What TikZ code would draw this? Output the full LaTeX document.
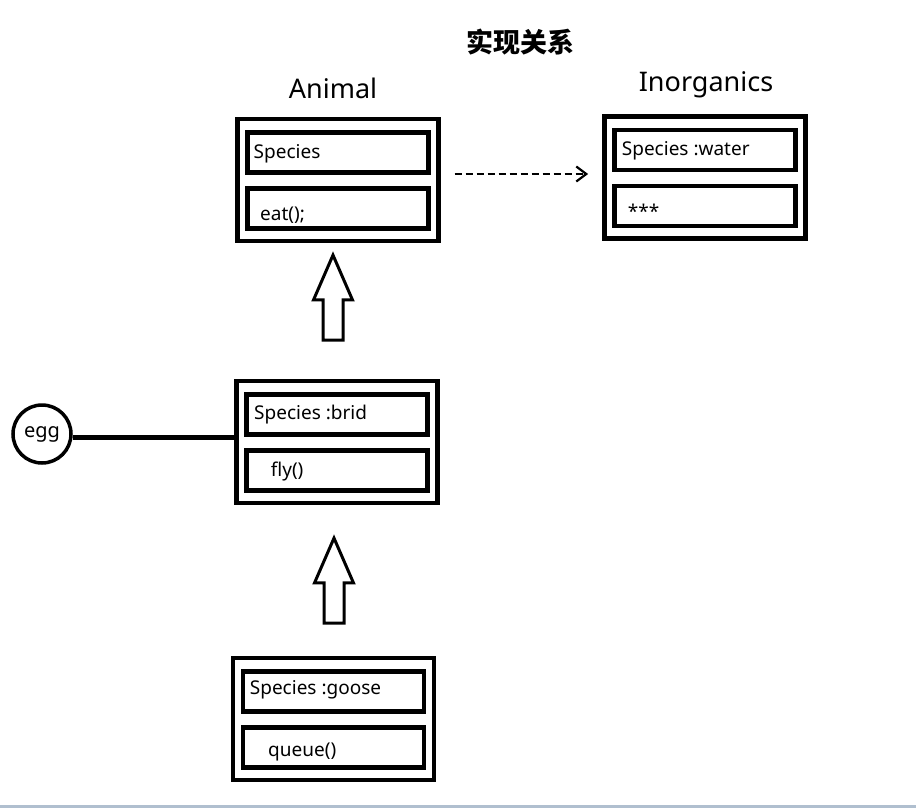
\documentclass[tikz,border=0pt]{standalone}
\usepackage{fontspec}
\setmainfont{Noto Sans}
\newfontfamily\cjk{Noto Sans CJK SC}
\usepackage{tikz}
\usetikzlibrary{calc,positioning,shapes.arrows,arrows.meta}
\definecolor{rulegrey}{RGB}{176,191,207}

\begin{document}
\begin{tikzpicture}[x=1pt,y=-1pt,
    classbox/.style={draw,line width=4.8pt,minimum width=201pt,minimum height=122pt,inner sep=0pt},
    fieldbox/.style={draw,line width=4.8pt,minimum width=181pt,minimum height=40pt,inner sep=0pt},
    fieldtext/.style={anchor=base west,inner sep=0pt,font=\fontsize{19}{21}\selectfont},
    classname/.style={inner sep=0pt,font=\fontsize{27}{29}\selectfont},
    hollowup/.style={single arrow,draw,line width=3pt,shape border rotate=90,inner sep=8.5pt,
        minimum height=85pt,single arrow head extend=9.5pt,single arrow tip angle=47}]
  \useasboundingbox (0,0) rectangle (916,808);
  \node[font=\cjk\bfseries\fontsize{27}{29}\selectfont](title)at(520,42){实现关系};
  % classes
  \node[classbox](animal)at(337.6,180){};
  \node[classbox](inorg)at(705,177.5){};
  \node[classbox](brid)at(337,442){};
  \node[classbox](goose)at(333.5,719){};
  \node[classname](animalname)at(333,88){Animal};
  \node[classname](inorgname)at(706,85){Inorganics};
  \foreach \c in {animal,inorg,brid,goose}{
    \node[fieldbox](\c-a)at([yshift=27.5pt]\c.center){};
    \node[fieldbox](\c-b)at([yshift=-28.5pt]\c.center){};
  }
  % field texts
  \node[fieldtext](animal-at)at(253.5,158.3){Species};
  \node[fieldtext](animal-bt)at(260,220){eat();};
  \node[fieldtext](inorg-at)at(621.7,155){Species :water};
  \node[fieldtext](inorg-bt)at(627.7,218){***};
  \node[fieldtext](brid-at)at(254,419.3){Species :brid};
  \node[fieldtext](brid-bt)at(270.7,476.7){fly()};
  \node[fieldtext](goose-at)at(249.7,694.3){Species :goose};
  \node[fieldtext](goose-bt)at(268,756){queue()};
  % egg
  \node[circle,draw,line width=3.5pt,minimum size=58pt,inner sep=0pt,
    font=\fontsize{20}{22}\selectfont](egg)at(42,434){egg};
  \draw[line width=5pt]([yshift=-3pt]egg.east)--([yshift=-3pt]egg.east-|brid.west);
  % inheritance
  \node[hollowup,above=37pt of brid,xshift=-4pt](bridup){};
  \node[hollowup,above=31pt of goose,xshift=0.5pt](gooseup){};
  % realisation
  \draw[line width=2.2pt,dash pattern=on 7pt off 4pt,
    -{Straight Barb[length=10pt,width=15pt,line width=2.2pt]}]
    ([xshift=14pt,yshift=6pt]animal.east)coordinate(dstart)--([xshift=-14pt]dstart-|inorg.west);
  \draw[line width=2.5pt,rulegrey](0,806.5)--(916,806.5);
\end{tikzpicture}
\end{document}
